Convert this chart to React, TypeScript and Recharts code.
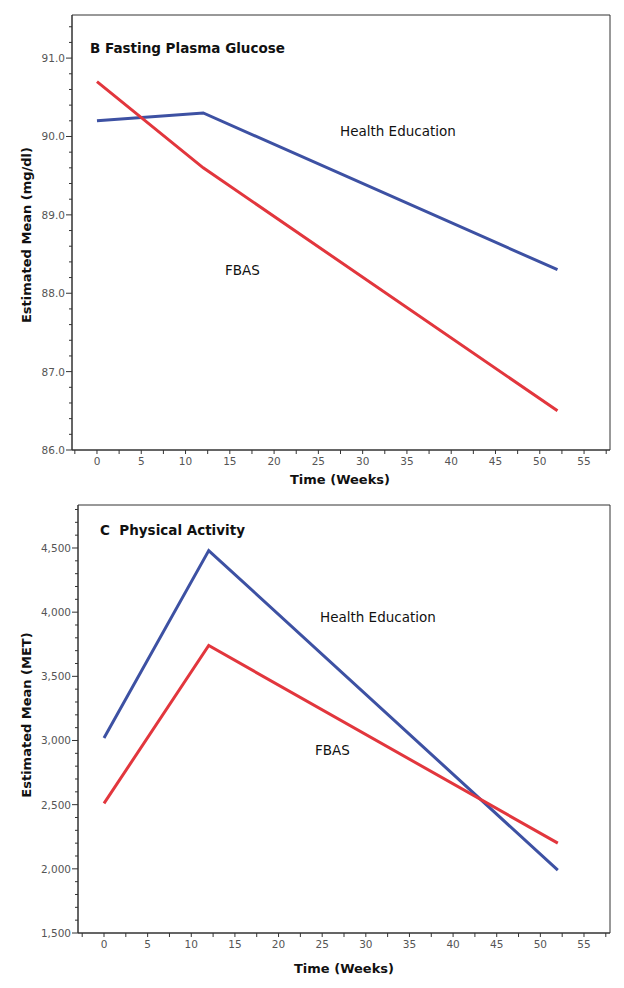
import React from "react";
import { LineChart, Line, XAxis, YAxis, ReferenceArea } from "recharts";

const weeks = [0, 12, 52];
const fbasGlucose = [90.7, 89.6, 86.5];
const healthEdGlucose = [90.2, 90.3, 88.3];
const fbasActivity = [2510, 3740, 2200];
const healthEdActivity = [3020, 4480, 1990];

const xTicks = [-2.5, 0, 2.5, 5, 7.5, 10, 12.5, 15, 17.5, 20, 22.5, 25, 27.5, 30, 32.5, 35, 37.5, 40, 42.5, 45, 47.5, 50, 52.5, 55, 57.5];
const xLabels = [0, 5, 10, 15, 20, 25, 30, 35, 40, 45, 50, 55];

const glucoseTicks = [86.0, 86.2, 86.4, 86.6, 86.8, 87.0, 87.2, 87.4, 87.6, 87.8, 88.0, 88.2, 88.4, 88.6, 88.8, 89.0, 89.2, 89.4, 89.6, 89.8, 90.0, 90.2, 90.4, 90.6, 90.8, 91.0, 91.2, 91.4];
const glucoseLabels = [86, 87, 88, 89, 90, 91];

const activityTicks = [1500, 1600, 1700, 1800, 1900, 2000, 2100, 2200, 2300, 2400, 2500, 2600, 2700, 2800, 2900, 3000, 3100, 3200, 3300, 3400, 3500, 3600, 3700, 3800, 3900, 4000, 4100, 4200, 4300, 4400, 4500, 4600, 4700, 4800];
const activityLabels = [1500, 2000, 2500, 3000, 3500, 4000, 4500];

const glucoseData = weeks.map((w, i) => ({ week: w, fbas: fbasGlucose[i], he: healthEdGlucose[i] }));
const activityData = weeks.map((w, i) => ({ week: w, fbas: fbasActivity[i], he: healthEdActivity[i] }));

const FONT = "DejaVu Sans";
const BLUE = "#3d51a3";
const RED = "#e2363d";
const AXIS = "#333";

const isMajor = (v: number, list: number[]) => list.some((l) => Math.abs(l - v) < 1e-6);

const XTick = (props: any) => {
  const { x, y, payload } = props;
  const major = isMajor(payload.value, xLabels);
  return (
    <g>
      <line x1={x} x2={x} y1={y} y2={y + 4} stroke={AXIS} strokeWidth={1} />
      {major && (
        <text x={x} y={y + 15} textAnchor="middle" fontSize={10.5} fill="#555" fontFamily={FONT}>
          {payload.value}
        </text>
      )}
    </g>
  );
};

const makeYTick = (labels: number[], fmt: (v: number) => string) => (props: any) => {
  const { x, y, payload } = props;
  const major = isMajor(payload.value, labels);
  return (
    <g>
      <line x1={x} x2={x - (major ? 6 : 3)} y1={y} y2={y} stroke={AXIS} strokeWidth={1} />
      {major && (
        <text x={x - 7} y={y + 4} textAnchor="end" fontSize={10.5} fill="#555" fontFamily={FONT}>
          {fmt(payload.value)}
        </text>
      )}
    </g>
  );
};

const GlucoseYTick = makeYTick(glucoseLabels, (v) => v.toFixed(1));
const ActivityYTick = makeYTick(activityLabels, (v) => v.toLocaleString("en-US"));

const txt = (extra: any) => ({ fontFamily: FONT, fill: "#111", ...extra });

export default function App() {
  const gX: [number, number] = [-2.82, 57.93];
  const gY: [number, number] = [86, 91.55];
  const aX: [number, number] = [-2.98, 57.98];
  const aY: [number, number] = [1500, 4835];
  return (
    <div style={{ position: "absolute", left: 0, top: 0, width: 624, height: 988, background: "#fff" }}>
      <div style={{ position: "absolute", left: 0, top: 0 }}>
        <LineChart width={624} height={490} data={glucoseData} margin={{ top: 15, right: 14, bottom: 0, left: 0 }}>
          <XAxis
            dataKey="week"
            type="number"
            domain={gX}
            allowDataOverflow
            ticks={xTicks}
            interval={0}
            tick={<XTick />}
            tickLine={false}
            tickSize={0}
            tickMargin={0}
            height={40}
            axisLine={{ stroke: AXIS }}
          />
          <YAxis
            type="number"
            domain={gY}
            allowDataOverflow
            ticks={glucoseTicks}
            interval={0}
            tick={<GlucoseYTick />}
            tickLine={false}
            tickSize={0}
            tickMargin={0}
            width={72}
            axisLine={{ stroke: AXIS }}
          />
          <ReferenceArea x1={gX[0]} x2={gX[1]} y1={gY[0]} y2={gY[1]} fill="none" stroke={AXIS} strokeWidth={1} />
          <Line dataKey="he" type="linear" stroke={BLUE} strokeWidth={3} dot={false} isAnimationActive={false} />
          <Line dataKey="fbas" type="linear" stroke={RED} strokeWidth={3} dot={false} isAnimationActive={false} />
        </LineChart>
      </div>
      <div style={{ position: "absolute", left: 0, top: 490 }}>
        <LineChart width={624} height={498} data={activityData} margin={{ top: 15, right: 14, bottom: 0, left: 0 }}>
          <XAxis
            dataKey="week"
            type="number"
            domain={aX}
            allowDataOverflow
            ticks={xTicks}
            interval={0}
            tick={<XTick />}
            tickLine={false}
            tickSize={0}
            tickMargin={0}
            height={55}
            axisLine={{ stroke: AXIS }}
          />
          <YAxis
            type="number"
            domain={aY}
            allowDataOverflow
            ticks={activityTicks}
            interval={0}
            tick={<ActivityYTick />}
            tickLine={false}
            tickSize={0}
            tickMargin={0}
            width={78}
            axisLine={{ stroke: AXIS }}
          />
          <ReferenceArea x1={aX[0]} x2={aX[1]} y1={aY[0]} y2={aY[1]} fill="none" stroke={AXIS} strokeWidth={1} />
          <Line dataKey="he" type="linear" stroke={BLUE} strokeWidth={3} dot={false} isAnimationActive={false} />
          <Line dataKey="fbas" type="linear" stroke={RED} strokeWidth={3} dot={false} isAnimationActive={false} />
        </LineChart>
      </div>
      <svg width={624} height={988} style={{ position: "absolute", left: 0, top: 0, pointerEvents: "none" }}>
        <text x={90} y={53} {...txt({ fontSize: 13.5, fontWeight: "bold" })}>B Fasting Plasma Glucose</text>
        <text x={340} y={136} {...txt({ fontSize: 13.5 })}>Health Education</text>
        <text x={225} y={275} {...txt({ fontSize: 13.5 })}>FBAS</text>
        <text x={31} y={235} textAnchor="middle" transform="rotate(-90 31 235)" {...txt({ fontSize: 13, fontWeight: "bold" })}>
          Estimated Mean (mg/dl)
        </text>
        <text x={340} y={484} textAnchor="middle" {...txt({ fontSize: 13, fontWeight: "bold" })}>Time (Weeks)</text>

        <text x={100} y={535} style={{ whiteSpace: "pre" }} {...txt({ fontSize: 13.5, fontWeight: "bold" })}>C  Physical Activity</text>
        <text x={320} y={622} {...txt({ fontSize: 13.5 })}>Health Education</text>
        <text x={315} y={755} {...txt({ fontSize: 13.5 })}>FBAS</text>
        <text x={31} y={715} textAnchor="middle" transform="rotate(-90 31 715)" {...txt({ fontSize: 13, fontWeight: "bold" })}>
          Estimated Mean (MET)
        </text>
        <text x={344} y={973} textAnchor="middle" {...txt({ fontSize: 13, fontWeight: "bold" })}>Time (Weeks)</text>
      </svg>
    </div>
  );
}
